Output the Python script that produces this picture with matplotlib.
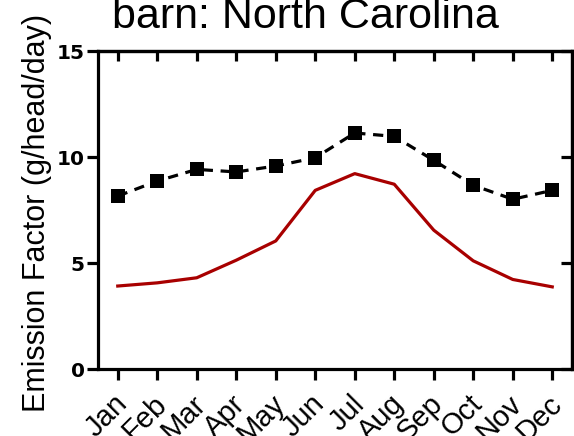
import matplotlib
matplotlib.use("Agg")
import matplotlib.pyplot as plt
import matplotlib.transforms as mtransforms

months = ["Jan", "Feb", "Mar", "Apr", "May", "Jun", "Jul", "Aug", "Sep", "Oct", "Nov", "Dec"]
barn_ef = [8.17, 8.88, 9.43, 9.31, 9.59, 9.98, 11.15, 10.99, 9.86, 8.68, 8.02, 8.44]
model_ef = [3.92, 4.07, 4.31, 5.14, 6.05, 8.44, 9.23, 8.73, 6.56, 5.11, 4.23, 3.88]
yticks = [0, 5, 10, 15]
title = "barn: North Carolina"
ylabel = "Emission Factor (g/head/day)"

W, H = 574, 436
fig = plt.figure(figsize=(W / 100, H / 100), dpi=100)
ax = fig.add_axes([98 / W, 1 - 369 / H, (572 - 98) / W, (369 - 51.5) / H])

x = list(range(len(months)))
ax.plot(x, model_ef, color="#A80000", lw=2.3, solid_joinstyle="round", zorder=2)
ax.plot(x, barn_ef, color="black", lw=2.3, ls=(0, (3.2, 2.4)), marker="s",
        markersize=9.5, markeredgewidth=0, zorder=3)

ax.set_xlim(-0.5, 11.5)
ax.set_ylim(0, 15)
for s in ax.spines.values():
    s.set_linewidth(2.3)

ax.set_yticks(yticks)
ax.set_yticklabels([str(v) for v in yticks], fontsize=14.5, fontweight="bold",
                   family="DejaVu Sans")
ax.tick_params(axis="y", direction="out", length=8, width=2.3, pad=1.5)

ax.set_xticks(x)
ax.set_xticklabels(months, rotation=45, ha="right", va="center",
                   rotation_mode="anchor", fontsize=21, family="Liberation Sans")
ax.tick_params(axis="x", direction="out", length=8, width=2.3, pad=14)
off = mtransforms.ScaledTranslation(5 / 100, 0, fig.dpi_scale_trans)
for lab in ax.get_xticklabels():
    lab.set_transform(lab.get_transform() + off)

top = ax.secondary_xaxis("top")
top.set_xticks(x)
top.set_xticklabels([])
top.tick_params(direction="in", length=7, width=2.3)
top.spines["top"].set_linewidth(2.3)

right = ax.secondary_yaxis("right")
right.set_yticks(yticks)
right.set_yticklabels([])
right.tick_params(direction="in", length=8, width=2.3)
right.spines["right"].set_linewidth(2.3)

ax.text((45 - 98) / 474, (369 - 213) / 317.5, ylabel, transform=ax.transAxes,
        rotation=90, rotation_mode="anchor", ha="center", va="baseline",
        fontsize=22, family="Liberation Sans")

fig.text(305 / W, 1 - 28 / H, title, ha="center", va="baseline",
         fontsize=31, family="Liberation Sans")

fig.savefig("out.png", dpi=100)
